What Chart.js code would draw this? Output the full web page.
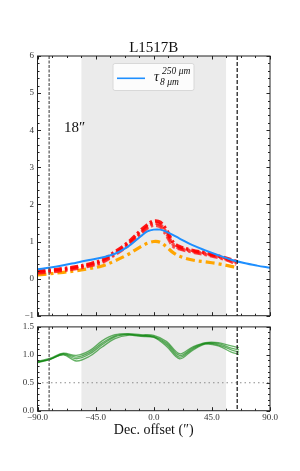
<!DOCTYPE html>
<html>
<head>
<meta charset="utf-8">
<script src="https://cdn.jsdelivr.net/npm/chart.js@4.4.0/dist/chart.umd.min.js"></script>
<style>
  body { margin: 0; background: #fff; width: 300px; height: 471px; position: relative; overflow: hidden; }
  #topChart { position: absolute; left: 0; top: 0; }
  #bottomChart { position: absolute; left: 0; top: 318px; }
</style>
</head>
<body>
<canvas id="topChart" width="300" height="330"></canvas>
<canvas id="bottomChart" width="300" height="153"></canvas>
<script>
// ---- data ----
const titleText = 'L1517B';
const beamText = '18\u2033';
const xLabel = 'Dec. offset (\u2033)';

const bandRange = [-56, 56];          // grey shaded region
const beamLeft = [-81, -81];          // dashed vertical lines
const beamRight = [64.6, 64.6];

const blueX = [-90, -80, -70, -60, -50, -40, -30, -20, -10, -5, 0, 5, 10, 20, 30, 40, 50, 60, 70, 80, 90];
const blueY = [0.25, 0.30, 0.36, 0.43, 0.50, 0.57, 0.67, 0.86, 1.14, 1.27, 1.32, 1.32, 1.26, 1.08, 0.90, 0.76, 0.63, 0.51, 0.42, 0.35, 0.29];

const redX = [-90, -80, -70, -60, -50, -40, -30, -20, -10, -5, 0, 5, 10, 15, 20, 30, 40, 50, 60, 64];
const redA = [0.20, 0.23, 0.27, 0.32, 0.39, 0.50, 0.72, 0.97, 1.30, 1.45, 1.55, 1.52, 1.30, 0.98, 0.86, 0.76, 0.69, 0.61, 0.51, 0.46];
const redB = [0.17, 0.20, 0.24, 0.29, 0.36, 0.46, 0.68, 0.92, 1.24, 1.40, 1.49, 1.45, 1.22, 0.92, 0.82, 0.74, 0.67, 0.59, 0.48, 0.42];
const redC = [0.15, 0.18, 0.22, 0.27, 0.34, 0.44, 0.65, 0.89, 1.20, 1.36, 1.44, 1.40, 1.16, 0.88, 0.80, 0.72, 0.65, 0.57, 0.46, 0.38];

const orangeX = [-90, -80, -70, -60, -50, -40, -30, -20, -10, -5, 0, 5, 10, 15, 20, 30, 40, 50, 60, 64];
const orangeY = [0.10, 0.13, 0.17, 0.21, 0.27, 0.34, 0.48, 0.65, 0.86, 0.95, 1.00, 0.98, 0.85, 0.70, 0.60, 0.50, 0.45, 0.40, 0.33, 0.30];

const greenX = [-90, -80, -70, -60, -50, -40, -30, -20, -10, 0, 10, 20, 30, 40, 50, 60, 66];
const green1 = [0.88, 0.94, 1.03, 0.99, 1.07, 1.25, 1.36, 1.38, 1.36, 1.35, 1.24, 1.02, 1.14, 1.22, 1.22, 1.16, 1.13];
const green2 = [0.87, 0.93, 1.02, 0.96, 1.04, 1.21, 1.34, 1.37, 1.35, 1.33, 1.21, 0.99, 1.12, 1.21, 1.20, 1.12, 1.09];
const green3 = [0.87, 0.92, 1.01, 0.93, 1.01, 1.18, 1.32, 1.36, 1.34, 1.32, 1.18, 0.96, 1.10, 1.20, 1.18, 1.09, 1.05];
const green4 = [0.86, 0.92, 1.00, 0.89, 0.97, 1.14, 1.29, 1.35, 1.33, 1.31, 1.15, 0.93, 1.08, 1.19, 1.16, 1.05, 1.01];

const refX = [-90, 90];
const refY = [0.5, 0.5];

const topYTicks = [-1, 0, 1, 2, 3, 4, 5, 6];
const bottomYTicks = [0, 0.5, 1.0, 1.5];
const xTicks = [-90, -45, 0, 45, 90];

const SERIF = "'Liberation Serif', 'DejaVu Serif', serif";
const minus = v => String(v).replace('-', '\u2212');

function pts(xs, ys) {
    return xs.map((x, i) => ({ x: x, y: ys[i] }));
}

function minorList(min, max, step) {
    const out = [];
    for (let v = min; v <= max + 1e-9; v += step) out.push(v);
    return out;
}

// grey band + beam lines
const bandPlugin = {
    id: 'band',
    beforeDatasetsDraw(chart) {
        const { ctx, chartArea: a, scales: { x } } = chart;
        ctx.save();
        ctx.fillStyle = '#ebebeb';
        const x0 = x.getPixelForValue(bandRange[0]);
        const x1 = x.getPixelForValue(bandRange[1]);
        ctx.fillRect(x0, a.top, x1 - x0, a.bottom - a.top);
        ctx.restore();
    },
    afterDatasetsDraw(chart) {
        const { ctx, chartArea: a, scales: { x } } = chart;
        ctx.save();
        ctx.lineWidth = 1.2;
        ctx.strokeStyle = '#555';
        ctx.setLineDash([3, 1.5]);
        let px = x.getPixelForValue(beamLeft[0]);
        ctx.beginPath(); ctx.moveTo(px, a.top); ctx.lineTo(px, a.bottom); ctx.stroke();
        ctx.strokeStyle = '#111';
        ctx.setLineDash([4, 2]);
        px = x.getPixelForValue(beamRight[0]);
        ctx.beginPath(); ctx.moveTo(px, a.top); ctx.lineTo(px, a.bottom); ctx.stroke();
        ctx.restore();
    }
};

// matplotlib style frame with inward ticks on all sides
const frameTicks = {
    id: 'frameTicks',
    afterDraw(chart, args, opts) {
        const { ctx, chartArea: a, scales: { x, y } } = chart;
        ctx.save();
        ctx.strokeStyle = '#222';
        ctx.lineWidth = 1;
        ctx.strokeRect(a.left, a.top, a.right - a.left, a.bottom - a.top);
        ctx.beginPath();
        const drawX = (vals, len) => vals.forEach(v => {
            const p = Math.round(x.getPixelForValue(v)) + 0.5;
            ctx.moveTo(p, a.bottom); ctx.lineTo(p, a.bottom - len);
            ctx.moveTo(p, a.top); ctx.lineTo(p, a.top + len);
        });
        const drawY = (vals, len) => vals.forEach(v => {
            const p = Math.round(y.getPixelForValue(v)) + 0.5;
            ctx.moveTo(a.left, p); ctx.lineTo(a.left + len, p);
            ctx.moveTo(a.right, p); ctx.lineTo(a.right - len, p);
        });
        drawX(opts.xMinor, 2);
        drawX(opts.xMajor, 3.5);
        drawY(opts.yMinor, 2);
        drawY(opts.yMajor, 3.5);
        ctx.stroke();
        ctx.restore();
    }
};

// title, beam size text and legend with sub/superscripts
const annotations = {
    id: 'annotations',
    afterDraw(chart) {
        const { ctx, chartArea: a } = chart;
        ctx.save();
        ctx.fillStyle = '#111';
        ctx.textAlign = 'center';
        ctx.textBaseline = 'alphabetic';
        ctx.font = '15px ' + SERIF;
        ctx.fillText(titleText, (a.left + a.right) / 2, 52);

        ctx.textAlign = 'left';
        ctx.font = '15px ' + SERIF;
        ctx.fillText(beamText, 64, 132);

        // legend box
        ctx.fillStyle = 'rgba(255,255,255,0.85)';
        ctx.strokeStyle = '#d8d8d8';
        ctx.lineWidth = 1;
        ctx.beginPath();
        ctx.roundRect(113, 63.5, 81, 27, 2);
        ctx.fill();
        ctx.stroke();
        const blue = chart.data.datasets[0].borderColor;
        ctx.strokeStyle = blue;
        ctx.lineWidth = 1.6;
        ctx.beginPath();
        ctx.moveTo(117, 78.3); ctx.lineTo(145, 78.3);
        ctx.stroke();
        ctx.fillStyle = '#111';
        ctx.font = 'italic 14px ' + SERIF;
        ctx.fillText('\u03c4', 154, 81);
        ctx.font = 'italic 9.5px ' + SERIF;
        ctx.fillText('250 \u03bcm', 162, 73.5);
        ctx.fillText('8 \u03bcm', 160, 85);
        ctx.restore();
    }
};

function lineSet(data, color, width, dash, order) {
    return {
        data: data,
        borderColor: color,
        borderWidth: width,
        borderDash: dash,
        pointRadius: 0,
        tension: 0.35,
        fill: false,
        order: order
    };
}

function renderTopChart(canvasId) {
    try {
        const ctx = document.getElementById(canvasId);
        if (!ctx) {
            console.error(`Canvas element with ID ${canvasId} not found`);
            return;
        }
        ctx.chart = new Chart(ctx, {
            type: 'line',
            data: {
                datasets: [
                    lineSet(pts(blueX, blueY), '#1e8fff', 2, [], 0),
                    lineSet(pts(redX, redC), 'rgba(255,20,20,0.75)', 3.5, [8, 3, 2.5, 3], 3),
                    lineSet(pts(redX, redB), 'rgba(255,20,20,0.75)', 3.5, [8, 3, 2.5, 3], 2),
                    lineSet(pts(redX, redA), 'rgba(255,0,0,0.9)', 3.5, [8, 3, 2.5, 3], 1),
                    lineSet(pts(orangeX, orangeY), '#ffa500', 3.2, [9, 4, 3, 4], 4)
                ]
            },
            options: {
                responsive: false,
                animation: false,
                layout: { padding: { top: 56, right: 30, bottom: 14.3, left: 0 } },
                plugins: {
                    legend: { display: false },
                    tooltip: { enabled: false },
                    frameTicks: {
                        xMajor: xTicks, xMinor: minorList(-90, 90, 11.25),
                        yMajor: topYTicks, yMinor: minorList(-1, 6, 0.2)
                    }
                },
                scales: {
                    x: { type: 'linear', min: -90, max: 90, display: false },
                    y: {
                        min: -1, max: 6,
                        grid: { display: false, drawTicks: false },
                        border: { display: false },
                        afterFit: s => { s.width = 37.5; },
                        afterBuildTicks: s => { s.ticks = topYTicks.map(v => ({ value: v })); },
                        ticks: {
                            color: '#333', padding: 3.5,
                            font: { family: SERIF, size: 9 },
                            callback: v => minus(v)
                        }
                    }
                }
            },
            plugins: [bandPlugin, frameTicks, annotations]
        });
    } catch (error) {
        console.error('Error rendering top chart:', error);
    }
}

function renderBottomChart(canvasId) {
    try {
        const ctx = document.getElementById(canvasId);
        if (!ctx) {
            console.error(`Canvas element with ID ${canvasId} not found`);
            return;
        }
        const green = 'rgba(0,128,0,0.6)';
        ctx.chart = new Chart(ctx, {
            type: 'line',
            data: {
                datasets: [
                    lineSet(pts(greenX, green1), green, 1.3, [], 1),
                    lineSet(pts(greenX, green2), green, 1.3, [], 2),
                    lineSet(pts(greenX, green3), green, 1.3, [], 3),
                    lineSet(pts(greenX, green4), green, 1.3, [], 4),
                    Object.assign(lineSet(pts(refX, refY), '#8c8c8c', 1.2, [1.5, 3], 5), { tension: 0 })
                ]
            },
            options: {
                responsive: false,
                animation: false,
                layout: { padding: { top: 7.3, right: 30, bottom: 28.3, left: 0 } },
                plugins: {
                    legend: { display: false },
                    tooltip: { enabled: false },
                    frameTicks: {
                        xMajor: xTicks, xMinor: minorList(-90, 90, 11.25),
                        yMajor: bottomYTicks, yMinor: minorList(0, 1.5, 0.1)
                    }
                },
                scales: {
                    x: {
                        type: 'linear', min: -90, max: 90,
                        grid: { display: false, drawTicks: false },
                        border: { display: false },
                        afterFit: s => { s.height = 32; },
                        afterBuildTicks: s => { s.ticks = xTicks.map(v => ({ value: v })); },
                        ticks: {
                            color: '#333', padding: 2, autoSkip: false, maxRotation: 0,
                            font: { family: SERIF, size: 9 },
                            callback: v => minus(Number(v).toFixed(1))
                        },
                        title: {
                            display: true, text: xLabel, color: '#111',
                            font: { family: SERIF, size: 14 },
                            padding: { top: 4, bottom: 4 }
                        }
                    },
                    y: {
                        min: 0, max: 1.5,
                        grid: { display: false, drawTicks: false },
                        border: { display: false },
                        afterFit: s => { s.width = 37.5; },
                        afterBuildTicks: s => { s.ticks = bottomYTicks.map(v => ({ value: v })); },
                        ticks: {
                            color: '#333', padding: 3.5,
                            font: { family: SERIF, size: 9 },
                            callback: v => Number(v).toFixed(1)
                        }
                    }
                }
            },
            plugins: [bandPlugin, frameTicks]
        });
    } catch (error) {
        console.error('Error rendering bottom chart:', error);
    }
}

renderTopChart('topChart');
renderBottomChart('bottomChart');
</script>
</body>
</html>
